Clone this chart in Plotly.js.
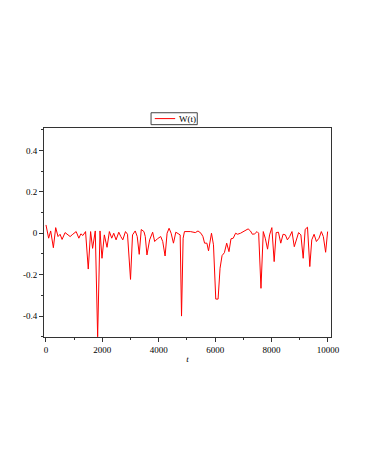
<!DOCTYPE html>
<html>
<head>
<meta charset="utf-8">
<script src="https://cdn.plot.ly/plotly-3.0.1.min.js"></script>
<style>
  html, body { margin: 0; padding: 0; background: #fff; }
  #plot { width: 366px; height: 473px; }
</style>
</head>
<body>
<div id="plot"></div>
<script>
// W(t) samples
var t_vals = [0, 95, 167, 262, 345, 428, 500, 571, 678, 762, 857, 952, 1071, 1166, 1238, 1309,
  1404, 1500, 1583, 1654, 1749, 1833, 1916, 1987, 2070, 2166, 2249, 2332, 2404, 2487, 2582,
  2654, 2725, 2820, 2892, 2999, 3070, 3165, 3237, 3308, 3380, 3475, 3522, 3582, 3677, 3784,
  3856, 3951, 4070, 4141, 4225, 4296, 4367, 4439, 4522, 4605, 4677, 4760, 4808,
  4865, 4912, 5122, 5298, 5392, 5497, 5567, 5626, 5708, 5766, 5813, 5871, 5941, 6023, 6105,
  6175, 6246, 6328, 6410, 6491, 6562, 6644, 6725, 6796, 6901, 6995, 7076, 7170, 7252, 7322,
  7404, 7486, 7544, 7626, 7708, 7778, 7860, 7931, 8012, 8094, 8165, 8246, 8328, 8410, 8492,
  8562, 8644, 8726, 8808, 8890, 8960, 9042, 9124, 9194, 9276, 9358, 9428, 9510, 9592, 9685,
  9767, 9838, 9920, 9990];
var w_vals = [0.04, -0.024, 0.011, -0.07, 0.027, -0.016, -0.005, -0.03, 0.003, -0.005, -0.016,
  -0.005, 0.008, -0.024, -0.003, -0.011, 0.008, -0.173, 0.008, -0.073, 0.011, -0.5, 0.011,
  -0.121, -0.008, -0.068, 0.008, -0.024, 0, -0.032, 0.005, -0.016, -0.032, 0.008, -0.005,
  -0.223, -0.008, 0.011, -0.016, -0.102, 0.018, 0.008, -0.016, -0.105, -0.032, 0.005, -0.04,
  -0.027, -0.016, -0.04, -0.11, 0, 0.024, 0, -0.048, 0.005, 0, -0.008, -0.4,
  -0.024, 0.008, 0.008, 0.003, 0.011, 0, -0.016, -0.048, -0.048, -0.085, -0.053, 0, -0.056,
  -0.318, -0.318, -0.169, -0.108, -0.094, -0.048, -0.089, -0.027, -0.024, 0, -0.005, 0, 0.008,
  0.016, 0.021, 0.011, -0.005, -0.003, 0.008, 0, -0.266, 0.008, -0.024, -0.077, -0.008, 0.027,
  -0.137, 0.003, 0.005, -0.048, -0.005, -0.008, -0.032, -0.016, 0.008, -0.065, -0.032, 0.003,
  -0.008, -0.121, 0.019, 0.029, -0.161, -0.032, -0.005, -0.04, -0.024, 0.008, -0.016, -0.092,
  0.008];

var x_ticks = [0, 2000, 4000, 6000, 8000, 10000];
var x_tick_text = ['0', '2000', '4000', '6000', '8000', '10000'];
var y_ticks = [-0.4, -0.2, 0, 0.2, 0.4];
var y_tick_text = ['-0.4', '-0.2', '0', '0.2', '0.4'];
var series_name = 'W(t)';
var line_color = '#ff0000';

var trace = {
    name: series_name,
    type: 'scatter',
    mode: 'lines',
    x: t_vals,
    y: w_vals,
    line: { color: line_color, width: 1 },
    showlegend: false
};

var serif = 'Liberation Serif, Times New Roman, serif';
var axfont = { family: serif, size: 9, color: '#000' };

// small Maple-style legend box above the frame
var leg_shapes = [
    { type: 'rect', xref: 'paper', yref: 'paper', x0: 0.373, x1: 0.534, y0: 1.016, y1: 1.073,
      line: { color: '#444', width: 1 }, fillcolor: '#fff' },
    { type: 'line', xref: 'paper', yref: 'paper', x0: 0.386, x1: 0.457, y0: 1.045, y1: 1.045,
      line: { color: line_color, width: 1 } }
];
var leg_notes = [
    { xref: 'paper', yref: 'paper', x: 0.465, y: 1.045, xanchor: 'left', yanchor: 'middle',
      text: series_name, showarrow: false, font: { family: serif, size: 9, color: '#000' } }
];

var layout = {
    width: 366, height: 473,
    margin: { l: 44, r: 35, t: 128, b: 136 },
    paper_bgcolor: '#fff', plot_bgcolor: '#fff',
    showlegend: false,
    shapes: leg_shapes,
    annotations: leg_notes,
    xaxis: {
        range: [-70, 10110],
        tickvals: x_ticks, ticktext: x_tick_text,
        ticks: 'outside', ticklen: 4, tickcolor: '#333', tickwidth: 1,
        minor: { dtick: 1000, tick0: 0, ticks: 'outside', ticklen: 2, tickcolor: '#333' },
        showgrid: false, zeroline: false,
        showline: true, linecolor: '#333', linewidth: 1, mirror: true,
        tickfont: axfont,
        title: { text: '<i>t</i>', font: { family: serif, size: 9, color: '#000' }, standoff: 1 }
    },
    yaxis: {
        range: [-0.501, 0.508],
        tickvals: y_ticks, ticktext: y_tick_text,
        ticks: 'outside', ticklen: 4, tickcolor: '#333', tickwidth: 1,
        minor: { dtick: 0.1, tick0: 0, ticks: 'outside', ticklen: 2, tickcolor: '#333' },
        showgrid: false, zeroline: false,
        showline: true, linecolor: '#333', linewidth: 1, mirror: true,
        tickfont: axfont
    }
};

Plotly.newPlot('plot', [trace], layout, { displayModeBar: false, staticPlot: true });
</script>
</body>
</html>
